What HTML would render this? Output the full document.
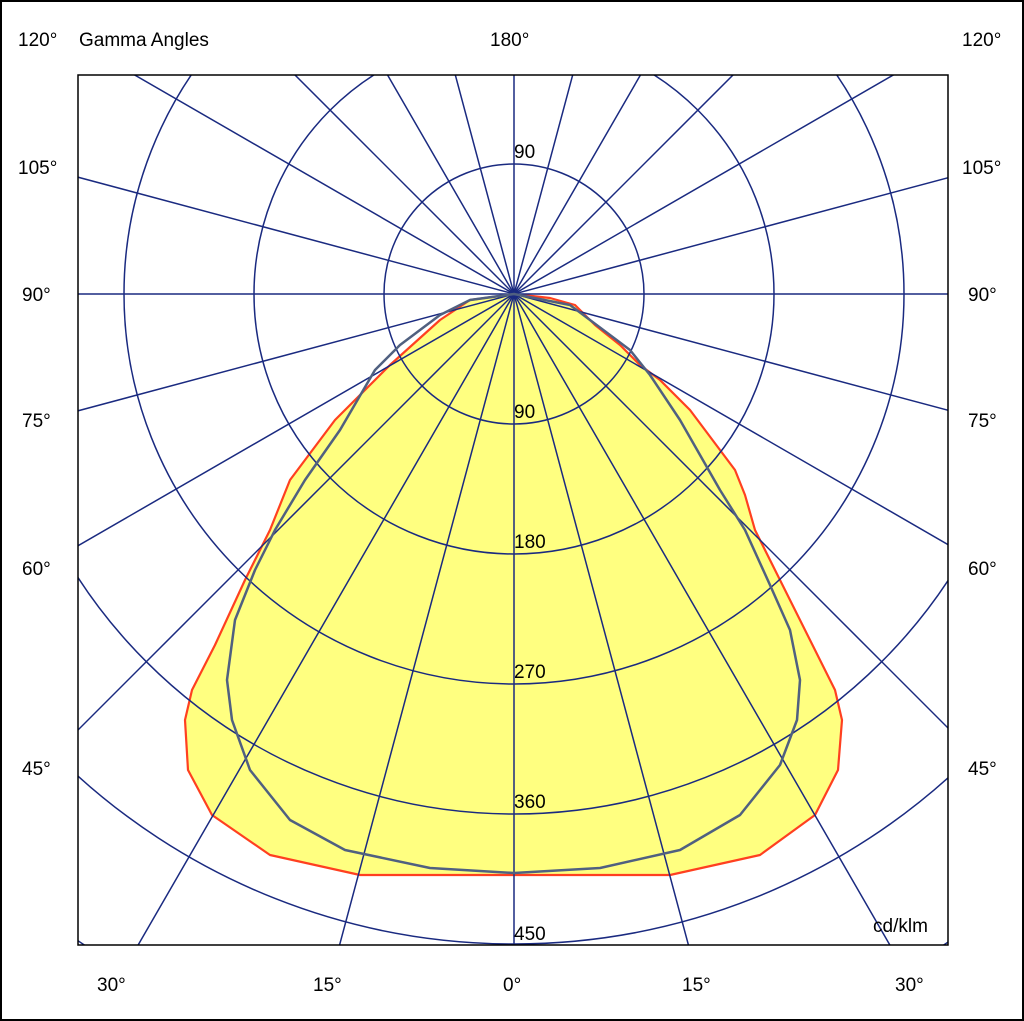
<!DOCTYPE html>
<html><head><meta charset="utf-8"><style>
html,body{margin:0;padding:0;background:#fff;overflow:hidden;width:1024px;height:1021px}
svg{display:block}
text{font-family:"Liberation Sans",Arial,sans-serif;font-size:19px;fill:#000}
</style></head><body>
<svg width="1024" height="1021" viewBox="0 0 1024 1021" xmlns="http://www.w3.org/2000/svg">
<rect x="1" y="1" width="1022" height="1019" fill="#fff" stroke="#000" stroke-width="2"/>
<defs><clipPath id="c"><rect x="78" y="75" width="870" height="870"/></clipPath></defs>
<g clip-path="url(#c)">
<path fill="#ffff80" stroke="#ff4020" stroke-width="2.2" stroke-linejoin="round" d="M514,294 L550,298 575,305 585,315 595,325 620,345 640,365 660,380 690,410 720,450 735,470 745,495 755,530 780,580 810,640 835,690 842,720 838,770 815,815 760,855 670,875 360,875 270,855 212,815 188,770 185,720 192,690 215,645 245,580 270,530 290,480 305,460 335,420 370,385 390,365 440,320 470,300 Z"/>
<g fill="none" stroke="#1a2a80" stroke-width="1.5">
<circle cx="514" cy="294" r="130"/><circle cx="514" cy="294" r="260"/><circle cx="514" cy="294" r="390"/><circle cx="514" cy="294" r="520"/><circle cx="514" cy="294" r="650"/><circle cx="514" cy="294" r="780"/>
<line x1="514" y1="1294" x2="514" y2="-706"/>
<line x1="772.8" y1="1259.9" x2="255.2" y2="-671.9"/>
<line x1="1014" y1="1160" x2="14" y2="-572"/>
<line x1="1221.1" y1="1001.1" x2="-193.1" y2="-413.1"/>
<line x1="1380" y1="794" x2="-352" y2="-206"/>
<line x1="1479.9" y1="552.8" x2="-451.9" y2="35.2"/>
<line x1="1514" y1="294" x2="-486" y2="294"/>
<line x1="1479.9" y1="35.2" x2="-451.9" y2="552.8"/>
<line x1="1380" y1="-206" x2="-352" y2="794"/>
<line x1="1221.1" y1="-413.1" x2="-193.1" y2="1001.1"/>
<line x1="1014" y1="-572" x2="14" y2="1160"/>
<line x1="772.8" y1="-671.9" x2="255.2" y2="1259.9"/>
</g>
<path fill="none" stroke="#506080" stroke-width="2.5" stroke-linejoin="round" d="M514,294 L570,305 590,320 630,350 650,375 680,420 720,490 745,530 770,585 790,630 800,680 797,720 780,765 740,815 680,850 600,868 514,873 430,868 345,850 290,820 250,770 232,720 227,680 235,620 255,570 275,530 305,480 340,430 375,370 400,345 440,315 470,300 Z"/>
</g>
<rect x="78" y="75" width="870" height="870" fill="none" stroke="#000" stroke-width="1.5"/>
<g>
<text x="514" y="158">90</text><text x="514" y="418">90</text><text x="514" y="548">180</text><text x="514" y="678">270</text><text x="514" y="808">360</text><text x="514" y="940">450</text>
<text x="873" y="932">cd/klm</text>
<text x="18" y="46">120°</text><text x="79" y="46">Gamma Angles</text><text x="490" y="46">180°</text><text x="962" y="46">120°</text>
<text x="18" y="174">105°</text><text x="962" y="174">105°</text>
<text x="22" y="301">90°</text><text x="968" y="301">90°</text>
<text x="22" y="427">75°</text><text x="968" y="427">75°</text>
<text x="22" y="575">60°</text><text x="968" y="575">60°</text>
<text x="22" y="775">45°</text><text x="968" y="775">45°</text>
<text x="97" y="991">30°</text><text x="313" y="991">15°</text><text x="503" y="991">0°</text><text x="682" y="991">15°</text><text x="895" y="991">30°</text>
</g>
</svg>
</body></html>
